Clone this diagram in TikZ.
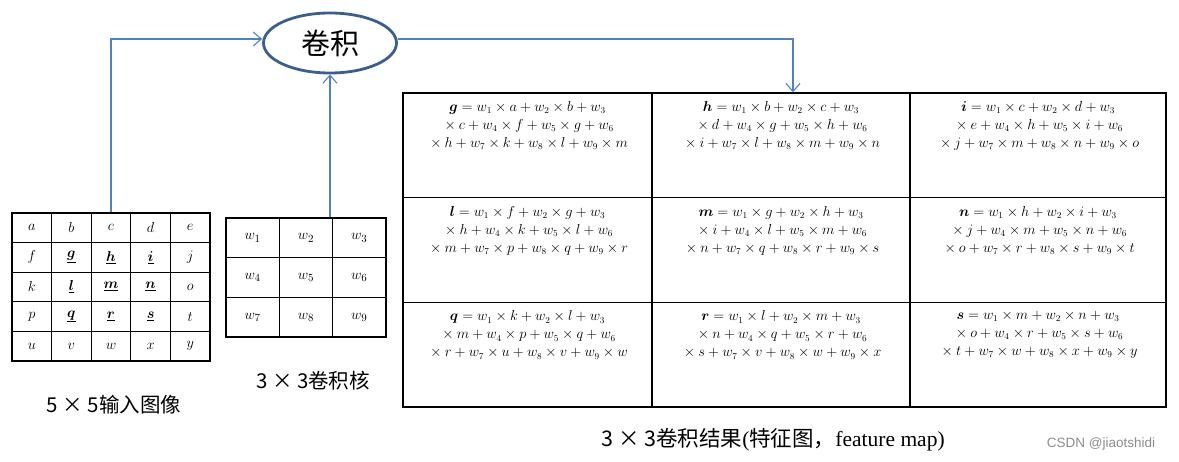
\documentclass[tikz,border=0pt]{standalone}
\usepackage{amsmath,amssymb,bm}
\usepackage{fontspec}
\newfontfamily\cjk{Noto Sans CJK SC}
\newfontfamily\tnr{Liberation Serif}
\newfontfamily\wmark{Liberation Sans}
\usetikzlibrary{shapes.geometric,arrows.meta}

\definecolor{linkblue}{HTML}{4F81BD}
\definecolor{ringblue}{HTML}{3A5F8F}

\tikzset{
  incell/.style={draw, line width=1.2pt, minimum width=39.6pt, minimum height=29.6pt, inner sep=0pt, font=\fontsize{13.5}{15}\selectfont},
  kcell/.style={draw, line width=1.2pt, minimum width=53.3pt, minimum height=39.7pt, inner sep=0pt, font=\fontsize{15}{17}\selectfont},
  rcell/.style={draw, line width=1.3pt, minimum height=104.7pt, inner sep=0pt},
  formula/.style={anchor=north, align=center, inner sep=0pt, font=\fontsize{13.5}{18}\selectfont},
  link/.style={linkblue, line width=1.1pt, -{Straight Barb[length=8pt,width=14pt]}},
  caption/.style={font=\cjk\fontsize{20.5}{24}\selectfont}
}

\begin{document}
\begin{tikzpicture}[x=1pt, y=-1pt]
    \useasboundingbox (0,0) rectangle (1179,462);
    %
    % 5x5 input
    \foreach \l [count=\i from 0] in {a,b,c,d,e,f,g,h,i,j,k,l,m,n,o,p,q,r,s,t,u,v,w,x,y}{
        \pgfmathtruncatemacro{\col}{mod(\i,5)}
        \pgfmathtruncatemacro{\row}{div(\i,5)}
        \node (\l)[incell] at ({12+39.6*(\col+0.5)},{213+29.6*(\row+0.5)}) {$\l$};
    }
    \foreach \l in {g,h,i,l,m,n,q,r,s}
        \node[incell, fill=white] at (\l) {$\underline{\bm{\l}}$};
    \node (incap)[caption] at (114,405) {5 × 5输入图像};
    %
    % 3x3 kernel
    \foreach \k in {1,...,9}{
        \pgfmathtruncatemacro{\col}{mod(\k-1,3)}
        \pgfmathtruncatemacro{\row}{div(\k-1,3)}
        \node (w\k)[kcell] at ({226+53.3*(\col+0.5)},{218+39.7*(\row+0.5)}) {$w_{\k}$};
    }
    \node (kcap)[caption] at (313,381) {3 × 3卷积核};
    %
    % convolution
    \node (conv)[draw=ringblue, line width=2.8pt, ellipse, minimum width=133pt, minimum height=60pt, font=\cjk\fontsize{29}{32}\selectfont] at (330,43) {卷积};
    %
    % 3x3 result
    \node (rg)[rcell, minimum width=249pt] at (527.5,145.3) {};
    \node (rh)[rcell, minimum width=258pt] at (781,145.3) {};
    \node (ri)[rcell, minimum width=256pt] at (1038,145.3) {};
    \node (rl)[rcell, minimum width=249pt] at (527.5,250) {};
    \node (rm)[rcell, minimum width=258pt] at (781,250) {};
    \node (rn)[rcell, minimum width=256pt] at (1038,250) {};
    \node (rq)[rcell, minimum width=249pt] at (527.5,354.7) {};
    \node (rr)[rcell, minimum width=258pt] at (781,354.7) {};
    \node (rs)[rcell, minimum width=256pt] at (1038,354.7) {};
    %
    \node (fg)[formula] at ([yshift=-9pt]rg.north) {$\bm{g}=w_1\times a+w_2\times b+w_3$\\${}\times c+w_4\times f+w_5\times g+w_6$\\${}\times h+w_7\times k+w_8\times l+w_9\times m$};
    \node (fh)[formula] at ([yshift=-9pt]rh.north) {$\bm{h}=w_1\times b+w_2\times c+w_3$\\${}\times d+w_4\times g+w_5\times h+w_6$\\${}\times i+w_7\times l+w_8\times m+w_9\times n$};
    \node (fi)[formula] at ([yshift=-9pt]ri.north) {$\bm{i}=w_1\times c+w_2\times d+w_3$\\${}\times e+w_4\times h+w_5\times i+w_6$\\${}\times j+w_7\times m+w_8\times n+w_9\times o$};
    \node (fl)[formula] at ([yshift=-9pt]rl.north) {$\bm{l}=w_1\times f+w_2\times g+w_3$\\${}\times h+w_4\times k+w_5\times l+w_6$\\${}\times m+w_7\times p+w_8\times q+w_9\times r$};
    \node (fm)[formula] at ([yshift=-9pt]rm.north) {$\bm{m}=w_1\times g+w_2\times h+w_3$\\${}\times i+w_4\times l+w_5\times m+w_6$\\${}\times n+w_7\times q+w_8\times r+w_9\times s$};
    \node (fn)[formula] at ([yshift=-9pt]rn.north) {$\bm{n}=w_1\times h+w_2\times i+w_3$\\${}\times j+w_4\times m+w_5\times n+w_6$\\${}\times o+w_7\times r+w_8\times s+w_9\times t$};
    \node (fq)[formula] at ([yshift=-9pt]rq.north) {$\bm{q}=w_1\times k+w_2\times l+w_3$\\${}\times m+w_4\times p+w_5\times q+w_6$\\${}\times r+w_7\times u+w_8\times v+w_9\times w$};
    \node (fr)[formula] at ([yshift=-9pt]rr.north) {$\bm{r}=w_1\times l+w_2\times m+w_3$\\${}\times n+w_4\times q+w_5\times r+w_6$\\${}\times s+w_7\times v+w_8\times w+w_9\times x$};
    \node (fs)[formula] at ([yshift=-9pt]rs.north) {$\bm{s}=w_1\times m+w_2\times n+w_3$\\${}\times o+w_4\times r+w_5\times s+w_6$\\${}\times t+w_7\times w+w_8\times x+w_9\times y$};
    \node (rcap)[caption, font=\cjk\fontsize{21.5}{24}\selectfont] at (773,440) {3 × 3卷积结果{\tnr(}特征图，{\tnr feature map)}};
    \node (mark)[font=\wmark\fontsize{13.5}{15}\selectfont, text=black!45] at (1101,444) {CSDN @jiaotshidi};
    %
    \draw [link](c.north) |- ([yshift=4pt]conv.west);
    \draw [link](conv.south |- w2.north) -- (conv.south);
    \draw [link]([yshift=4pt]conv.east) -| ([xshift=12pt]rh.north);
\end{tikzpicture}
\end{document}
